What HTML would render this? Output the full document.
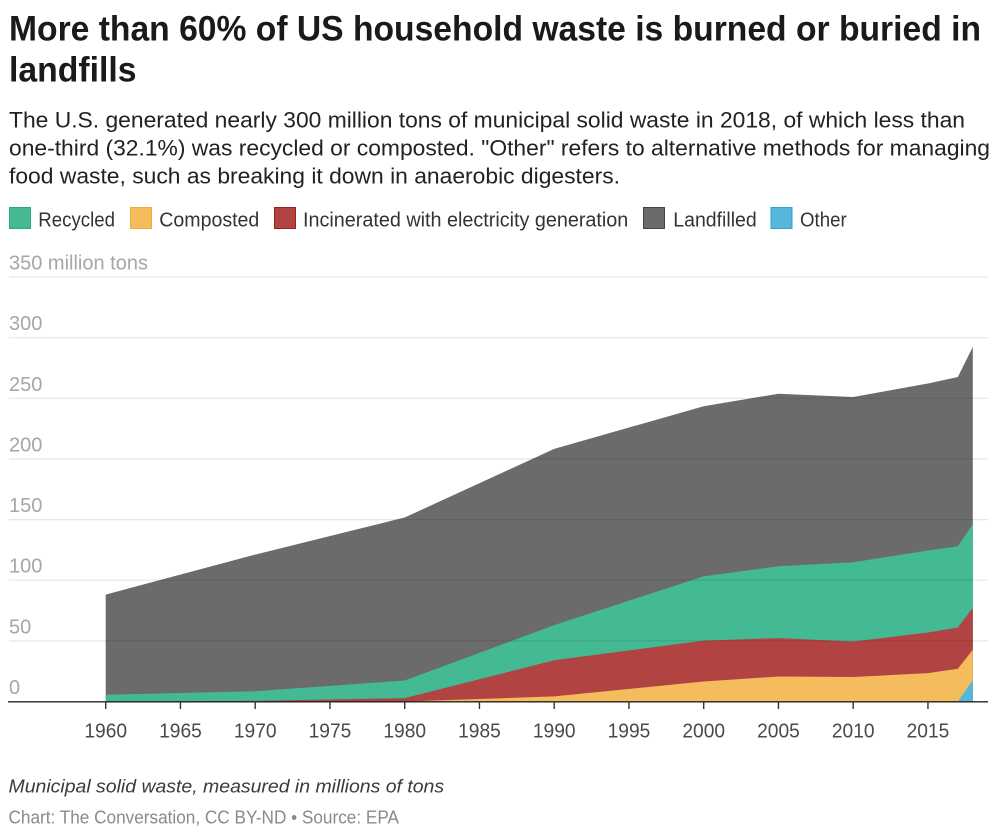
<!DOCTYPE html>
<html>
<head>
<meta charset="utf-8">
<style>
  html, body { margin: 0; padding: 0; background: #ffffff; }
  body { width: 1000px; height: 836px; overflow: hidden; }
  svg { display: block; }
  text { font-family: "Liberation Sans", Arial, sans-serif; }
</style>
</head>
<body>
<svg width="1000" height="836" viewBox="0 0 1000 836" xmlns="http://www.w3.org/2000/svg">
  <rect x="0" y="0" width="1000" height="836" fill="#ffffff"/>

  <!-- Title -->
  <text x="9" y="40.7" font-size="35" font-weight="bold" fill="#1a1a1a" textLength="972" lengthAdjust="spacingAndGlyphs">More than 60% of US household waste is burned or buried in</text>
  <text x="9" y="81.7" font-size="35" font-weight="bold" fill="#1a1a1a" textLength="127.5" lengthAdjust="spacingAndGlyphs">landfills</text>

  <!-- Subtitle -->
  <text x="9" y="127.7" font-size="22" fill="#222222" textLength="956" lengthAdjust="spacingAndGlyphs">The U.S. generated nearly 300 million tons of municipal solid waste in 2018, of which less than</text>
  <text x="9" y="155.7" font-size="22" fill="#222222" textLength="981" lengthAdjust="spacingAndGlyphs">one-third (32.1%) was recycled or composted. "Other" refers to alternative methods for managing</text>
  <text x="9" y="183.4" font-size="22" fill="#222222" textLength="611" lengthAdjust="spacingAndGlyphs">food waste, such as breaking it down in anaerobic digesters.</text>

  <!-- Legend -->
  <rect x="9.5" y="207.5" width="21" height="21" fill="#45b994" stroke="#2fa67f" stroke-width="1"/>
  <text x="38.3" y="226.7" font-size="20" fill="#333333" textLength="76.7" lengthAdjust="spacingAndGlyphs">Recycled</text>
  <rect x="130.5" y="207.5" width="21" height="21" fill="#f5bc5d" stroke="#eeaa3c" stroke-width="1"/>
  <text x="159.3" y="226.7" font-size="20" fill="#333333" textLength="100" lengthAdjust="spacingAndGlyphs">Composted</text>
  <rect x="274.5" y="207.5" width="21" height="21" fill="#b24343" stroke="#9a2020" stroke-width="1"/>
  <text x="303" y="226.7" font-size="20" fill="#333333" textLength="325.3" lengthAdjust="spacingAndGlyphs">Incinerated with electricity generation</text>
  <rect x="643.5" y="207.5" width="21" height="21" fill="#6b6b6b" stroke="#444444" stroke-width="1"/>
  <text x="673.3" y="226.7" font-size="20" fill="#333333" textLength="83.4" lengthAdjust="spacingAndGlyphs">Landfilled</text>
  <rect x="771" y="207.5" width="21" height="21" fill="#56b7da" stroke="#2ea3cc" stroke-width="1"/>
  <text x="800" y="226.7" font-size="20" fill="#333333" textLength="46.7" lengthAdjust="spacingAndGlyphs">Other</text>

  <!-- Y-axis labels -->
  <g font-size="20" fill="#a6a6a6">
    <text x="9" y="269.5">350 million tons</text>
    <text x="9" y="330.2">300</text>
    <text x="9" y="390.8">250</text>
    <text x="9" y="451.4">200</text>
    <text x="9" y="512.1">150</text>
    <text x="9" y="572.7">100</text>
    <text x="9" y="633.4">50</text>
    <text x="9" y="694">0</text>
  </g>

  <!-- Areas -->
  <path d="M105.7,701.5 L105.7,594.6 L255.2,554.6 L404.7,517.5 L554.2,448.9 L703.7,406.2 L778.45,393.7 L853.2,397.0 L927.95,383.5 L957.85,377.0 L972.8,346.9 L972.8,701.5 Z" fill="#6b6b6b"/>
  <path d="M105.7,701.5 L105.7,694.7 L255.2,691.2 L404.7,680.5 L554.2,625.1 L703.7,576.3 L778.45,566.3 L853.2,562.3 L927.95,550.5 L957.85,546.3 L972.8,524.1 L972.8,701.5 Z" fill="#43b994"/>
  <path d="M105.7,701.5 L255.2,700.9 L404.7,698.1 L554.2,660.3 L703.7,640.6 L778.45,638.1 L853.2,641.5 L927.95,632.5 L957.85,627.5 L972.8,607.9 L972.8,701.5 Z" fill="#b24343"/>
  <path d="M404.7,701.5 L554.2,696.4 L703.7,681.5 L778.45,676.5 L853.2,677.0 L927.95,673.1 L957.85,668.8 L972.8,649.8 L972.8,701.5 Z" fill="#f5bc5d"/>
  <path d="M957.85,701.5 L972.8,680.0 L972.8,701.5 Z" fill="#56b7da"/>

  <!-- Gridlines (over areas, translucent) -->
  <g stroke="rgba(0,0,0,0.10)" stroke-width="1.2">
    <line x1="9" y1="277.0" x2="988" y2="277.0"/>
    <line x1="9" y1="337.7" x2="988" y2="337.7"/>
    <line x1="9" y1="398.3" x2="988" y2="398.3"/>
    <line x1="9" y1="458.9" x2="988" y2="458.9"/>
    <line x1="9" y1="519.6" x2="988" y2="519.6"/>
    <line x1="9" y1="580.2" x2="988" y2="580.2"/>
    <line x1="9" y1="640.9" x2="988" y2="640.9"/>
  </g>

  <!-- X axis -->
  <line x1="8" y1="701.8" x2="988" y2="701.8" stroke="#222222" stroke-width="1.4"/>
  <g stroke="#333333" stroke-width="1.4">
    <line x1="105.7" y1="701.5" x2="105.7" y2="709"/>
    <line x1="180.45" y1="701.5" x2="180.45" y2="709"/>
    <line x1="255.2" y1="701.5" x2="255.2" y2="709"/>
    <line x1="329.95" y1="701.5" x2="329.95" y2="709"/>
    <line x1="404.7" y1="701.5" x2="404.7" y2="709"/>
    <line x1="479.45" y1="701.5" x2="479.45" y2="709"/>
    <line x1="554.2" y1="701.5" x2="554.2" y2="709"/>
    <line x1="628.95" y1="701.5" x2="628.95" y2="709"/>
    <line x1="703.7" y1="701.5" x2="703.7" y2="709"/>
    <line x1="778.45" y1="701.5" x2="778.45" y2="709"/>
    <line x1="853.2" y1="701.5" x2="853.2" y2="709"/>
    <line x1="927.95" y1="701.5" x2="927.95" y2="709"/>
  </g>
  <g font-size="20" fill="#4a4a4a" text-anchor="middle">
    <text x="105.7" y="737.3" textLength="42.7" lengthAdjust="spacingAndGlyphs">1960</text>
    <text x="180.45" y="737.3" textLength="42.7" lengthAdjust="spacingAndGlyphs">1965</text>
    <text x="255.2" y="737.3" textLength="42.7" lengthAdjust="spacingAndGlyphs">1970</text>
    <text x="329.95" y="737.3" textLength="42.7" lengthAdjust="spacingAndGlyphs">1975</text>
    <text x="404.7" y="737.3" textLength="42.7" lengthAdjust="spacingAndGlyphs">1980</text>
    <text x="479.45" y="737.3" textLength="42.7" lengthAdjust="spacingAndGlyphs">1985</text>
    <text x="554.2" y="737.3" textLength="42.7" lengthAdjust="spacingAndGlyphs">1990</text>
    <text x="628.95" y="737.3" textLength="42.7" lengthAdjust="spacingAndGlyphs">1995</text>
    <text x="703.7" y="737.3" textLength="42.7" lengthAdjust="spacingAndGlyphs">2000</text>
    <text x="778.45" y="737.3" textLength="42.7" lengthAdjust="spacingAndGlyphs">2005</text>
    <text x="853.2" y="737.3" textLength="42.7" lengthAdjust="spacingAndGlyphs">2010</text>
    <text x="927.95" y="737.3" textLength="42.7" lengthAdjust="spacingAndGlyphs">2015</text>
  </g>

  <!-- Footer -->
  <text x="8.5" y="792.3" font-size="18" font-style="italic" fill="#3a3a3a" textLength="435.6" lengthAdjust="spacingAndGlyphs">Municipal solid waste, measured in millions of tons</text>
  <text x="8.5" y="823.3" font-size="18" fill="#8a8a8a" textLength="390.5" lengthAdjust="spacingAndGlyphs">Chart: The Conversation, CC BY-ND • Source: EPA</text>
</svg>
</body>
</html>
